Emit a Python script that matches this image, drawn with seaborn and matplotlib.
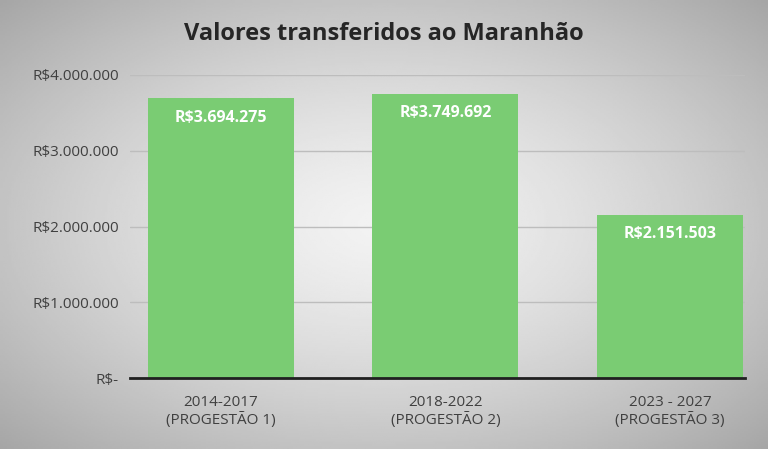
import numpy as np
import pandas as pd
import matplotlib.pyplot as plt
import seaborn as sns

periods = ['2014-2017\n(PROGESTÃO 1)', '2018-2022\n(PROGESTÃO 2)', '2023 - 2027\n(PROGESTÃO 3)']
valores = [3694275, 3749692, 2151503]
rotulos = ['R$3.694.275', 'R$3.749.692', 'R$2.151.503']
yticks = [0, 1000000, 2000000, 3000000, 4000000]
ylabels = ['R$-', 'R$1.000.000', 'R$2.000.000', 'R$3.000.000', 'R$4.000.000']

sns.set_theme(style='white')
plt.rcParams['font.family'] = ['Open Sans', 'DejaVu Sans']

fig = plt.figure(figsize=(7.68, 4.49), dpi=100)

# radial gray background
bg = fig.add_axes([0, 0, 1, 1])
xx, yy = np.meshgrid(np.linspace(-1, 1, 400), np.linspace(-1, 1, 240))
r = np.sqrt(xx**2 + yy**2) / np.sqrt(2)
bg.imshow(0.95 - 0.3 * r**1.4, cmap='gray', vmin=0, vmax=1, aspect='auto', extent=[0, 1, 0, 1])
bg.axis('off')

ax = fig.add_axes([0.169, 0.158, 0.801, 0.675])
ax.patch.set_alpha(0)
df = pd.DataFrame({'periodo': periods, 'valor': valores})
sns.barplot(data=df, x='periodo', y='valor', color='#7acc73', saturation=1, width=0.65,
            edgecolor='none', linewidth=0, ax=ax)
ax.set_xlim(-0.405, 2.334)
ax.set_ylim(0, 4000000)
ax.set_yticks(yticks)
ax.set_yticklabels(ylabels, color='#404040', fontsize=11)
ax.tick_params(axis='x', colors='#404040', labelsize=11, length=0, pad=12)
ax.tick_params(axis='y', length=0, pad=8)
ax.set_xlabel('')
ax.set_ylabel('')
ax.yaxis.grid(True, color='#bdbdbd', linewidth=1)
ax.set_axisbelow(True)
for s in ['top', 'right', 'left']:
    ax.spines[s].set_visible(False)
ax.spines['bottom'].set_color('#202020')
ax.spines['bottom'].set_linewidth(2)

for i, (v, t) in enumerate(zip(valores, rotulos)):
    ax.text(i, v - 150000, t, ha='center', va='top', color='white', fontsize=11.5, fontweight='bold')

fig.text(0.5, 0.925, 'Valores transferidos ao Maranhão', ha='center', va='center',
         fontsize=17, fontweight='bold', color='#262626')

fig.savefig('out.png', dpi=100)
